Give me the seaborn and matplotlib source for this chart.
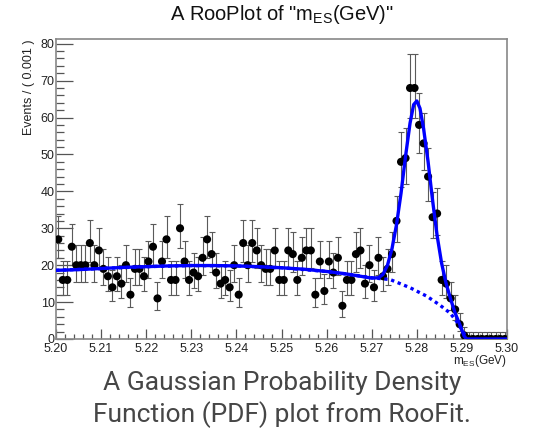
import numpy as np
import pandas as pd
import seaborn as sns
from matplotlib import pyplot as plt
from matplotlib.ticker import MultipleLocator, FormatStrFormatter

# histogram of m_ES, 100 bins of 0.001 GeV from 5.20 to 5.30
bin_lo = 5.20
bin_width = 0.001
counts = [27, 16, 16, 25, 20, 20, 20, 26, 20, 24, 19, 17, 14, 17, 15, 20, 12, 19, 19, 17, 21,
          25, 11, 21, 27, 16, 16, 30, 21, 16, 18, 17, 22, 27, 23, 18, 15, 16, 14, 20, 12, 26,
          20, 26, 24, 20, 19, 19, 24, 16, 16, 24, 23, 16, 22, 24, 24, 12, 21, 13, 21, 18, 22, 9,
          16, 16, 23, 24, 15, 20, 14, 22,
          17, 19, 23, 32, 48, 49, 68, 68, 58, 53, 44, 33, 34, 16, 15, 11, 8, 4, 1,
          0, 0, 0, 0, 0, 0, 0, 0, 0]

# full fit (solid)
fit_x = [5.200, 5.205, 5.210, 5.215, 5.220, 5.225, 5.230, 5.235, 5.240, 5.245, 5.250, 5.255,
         5.260, 5.264, 5.268, 5.270, 5.2715, 5.2725, 5.2735, 5.2745, 5.2755, 5.2765, 5.2775,
         5.2785, 5.2793, 5.2800, 5.2807, 5.2815, 5.2825, 5.2835, 5.2845, 5.2855, 5.2865,
         5.2875, 5.2885, 5.2895, 5.2905, 5.2910, 5.3000]
fit_y = [18.6, 18.8, 19.1, 19.4, 19.6, 19.8, 19.9, 19.9, 19.8, 19.6, 19.3, 18.9,
         18.3, 17.7, 16.9, 16.5, 16.6, 17.5, 20.0, 24.5, 31.0, 39.5, 49.5,
         58.5, 63.5, 64.5, 62.5, 57.0, 48.0, 37.5, 28.0, 20.5, 15.0,
         10.8, 7.0, 4.0, 0.8, 0.0, 0.0]

# background only (dotted)
bkg_x = [5.200, 5.210, 5.220, 5.230, 5.240, 5.250, 5.260, 5.265, 5.270, 5.2741, 5.2785,
         5.2822, 5.2851, 5.2874, 5.2888, 5.2900, 5.2908, 5.2910]
bkg_y = [18.6, 19.1, 19.6, 19.9, 19.8, 19.3, 18.3, 17.5, 16.6, 16.1, 13.9,
         11.6, 9.2, 7.0, 4.8, 2.5, 0.8, 0.0]

x_ticks = [5.20, 5.21, 5.22, 5.23, 5.24, 5.25, 5.26, 5.27, 5.28, 5.29, 5.30]
y_ticks = [0, 10, 20, 30, 40, 50, 60, 70, 80]

n = np.array(counts, dtype=float)
centers = bin_lo + bin_width * (np.arange(len(counts)) + 0.5)
# poisson (approx. Garwood) error bars like RooFit
lo = np.where(n > 0, n * (1 - 1 / (9 * np.maximum(n, 1)) - 1 / (3 * np.sqrt(np.maximum(n, 1)))) ** 3, 0)
up = (n + 1) * (1 - 1 / (9 * (n + 1)) + 1 / (3 * np.sqrt(n + 1))) ** 3
data = pd.DataFrame({'m': centers, 'events': n})

sns.set_style("white")
plt.rcParams['font.family'] = ['Liberation Sans', 'DejaVu Sans']
plt.rcParams['mathtext.fontset'] = 'custom'
plt.rcParams['mathtext.rm'] = 'Liberation Sans'

fig = plt.figure(figsize=(5.35, 4.29), dpi=100)
ax = fig.add_axes([0.1047, 0.2098, 0.843, 0.6986])

ax.errorbar(centers, n, yerr=[n - lo, up - n], fmt='none', ecolor='#5a5a5a',
            elinewidth=0.8, capsize=2.0, capthick=0.8, zorder=2)
sns.scatterplot(data=data, x='m', y='events', color='black', s=34, edgecolor='none',
                zorder=3, ax=ax)
sns.lineplot(x=bkg_x, y=bkg_y, color='#0000ff', linewidth=2.4, linestyle=(0, (1, 1.1)),
             estimator=None, zorder=4, ax=ax)
sns.lineplot(x=fit_x, y=fit_y, color='#0000ff', linewidth=2.4, estimator=None,
             zorder=5, ax=ax)

ax.set_xlim(5.20, 5.30)
ax.set_ylim(0, 81.2)
ax.set_xticks(x_ticks)
ax.set_yticks(y_ticks)
ax.xaxis.set_major_formatter(FormatStrFormatter('%.2f'))
ax.xaxis.set_minor_locator(MultipleLocator(0.002))
ax.yaxis.set_minor_locator(MultipleLocator(2))
ax.tick_params(axis='x', which='major', direction='in', length=7.2, width=0.9,
               color='#555555', labelsize=9, pad=3, labelcolor='#222222')
ax.tick_params(axis='x', which='minor', direction='in', length=3.6, width=0.9, color='#555555')
ax.tick_params(axis='y', which='major', direction='in', length=12, width=0.9,
               color='#555555', labelsize=9, pad=1, labelcolor='#222222')
ax.tick_params(axis='y', which='minor', direction='in', length=6, width=0.9, color='#555555')
ax.tick_params(bottom=True, left=True, top=False, right=False, which='both')
for side in ax.spines.values():
    side.set_color('#888888')
    side.set_linewidth(1.2)

ax.set_xlabel('')
ax.set_ylabel('Events / ( 0.001 )', fontsize=9, color='#222222', loc='top', labelpad=4)
fig.text(507 / 535, 1 - 361 / 429, r'm$_{\rm ES}$(GeV)', fontsize=8.5, color='#222222',
         ha='right', va='center')

fig.text(282 / 535, 1 - 15 / 429, r'A RooPlot of "m$_{\rm ES}$(GeV)"', fontsize=14.5,
         color='#111111', ha='center', va='center')

fig.text(282 / 535, 1 - 383 / 429, 'A Gaussian Probability Density', fontsize=19,
         color='#464646', ha='center', va='center', family='Roboto')
fig.text(282 / 535, 1 - 415 / 429, 'Function (PDF) plot from RooFit.', fontsize=19,
         color='#464646', ha='center', va='center', family='Roboto')

fig.savefig('out.png', dpi=100)
